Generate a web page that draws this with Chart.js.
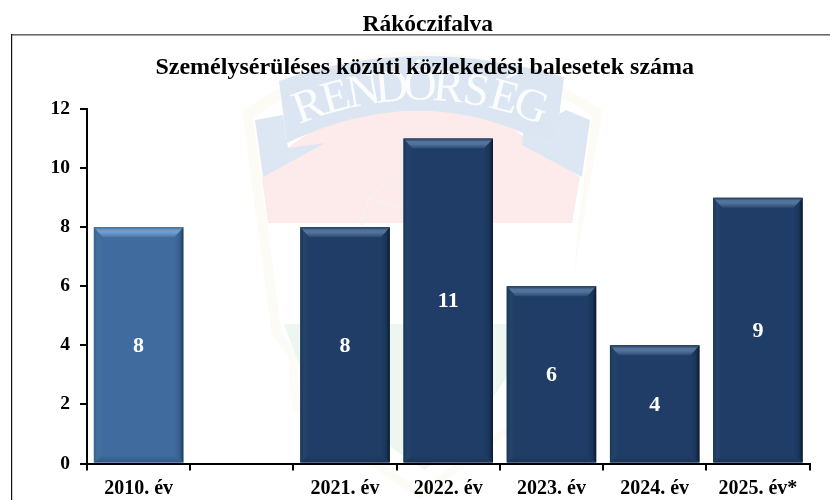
<!DOCTYPE html>
<html><head><meta charset="utf-8">
<style>html,body{margin:0;padding:0;background:#fff}canvas{display:block}</style>
<script src="https://cdn.jsdelivr.net/npm/chart.js@4"></script></head>
<body><div style="width:830px;height:500px"><canvas id="c" width="830" height="500"></canvas></div>
<script>
const categories=['2010. év','','2021. év','2022. év','2023. év','2024. év','2025. év*'];
const accidents=[8,null,8,11,6,4,9];
const yTicks=[0,2,4,6,8,10,12];
const townTitle='Rákóczifalva';
const chartTitle='Személysérüléses közúti közlekedési balesetek száma';
const watermarkWord='RENDŐRSÉG';
const SERIF='"Liberation Serif","Times New Roman",serif';

function poly(ctx,pts,fill){ctx.beginPath();pts.forEach((p,i)=>i?ctx.lineTo(p[0],p[1]):ctx.moveTo(p[0],p[1]));ctx.closePath();ctx.fillStyle=fill;ctx.fill();}

const backdrop={id:'backdrop',
 afterLayout(chart){if(chart.titleBlock){chart.titleBlock.left+=3;chart.titleBlock.right+=3;}},
 beforeDraw(chart){
  const ctx=chart.ctx;ctx.save();
  ctx.fillStyle='#fff';ctx.fillRect(0,0,830,500);
  // faint police-badge watermark
  ctx.beginPath();ctx.moveTo(242,111);ctx.quadraticCurveTo(415,-8,603,110);
  ctx.lineTo(578,250);ctx.lineTo(566,335);ctx.lineTo(545,356);ctx.lineTo(540,410);ctx.lineTo(420,500);ctx.lineTo(292,410);ctx.lineTo(288,355);ctx.lineTo(272,335);ctx.closePath();
  ctx.fillStyle='#fdfbf6';ctx.fill();
  ctx.beginPath();ctx.moveTo(253,118);ctx.quadraticCurveTo(415,8,592,115);ctx.lineTo(578,225);ctx.lineTo(570,335);ctx.lineTo(540,352);ctx.lineTo(534,405);ctx.lineTo(420,490);ctx.lineTo(300,405);ctx.lineTo(296,350);ctx.lineTo(282,335);ctx.closePath();
  ctx.fillStyle='#ffffff';ctx.fill();
  // red field
  ctx.beginPath();ctx.moveTo(262,178);ctx.lineTo(285,150);ctx.quadraticCurveTo(415,50,528,140);ctx.lineTo(580,177);ctx.lineTo(572,223);ctx.lineTo(268,223);ctx.closePath();
  ctx.fillStyle='#fdeaea';ctx.fill();
  // green field
  ctx.beginPath();ctx.moveTo(284,324);ctx.lineTo(516,324);ctx.lineTo(510,372);ctx.lineTo(478,420);ctx.lineTo(425,470);ctx.lineTo(350,420);ctx.lineTo(302,372);ctx.closePath();
  ctx.fillStyle='#edf6ef';ctx.fill();
  // ribbon tails
  poly(ctx,[[255,120],[283,115],[288,148],[325,143],[263,177]],'#dde7f3');
  poly(ctx,[[523,133],[566,110],[590,120],[582,177],[522,145]],'#dde7f3');
  // ribbon
  ctx.beginPath();ctx.moveTo(279,81);ctx.quadraticCurveTo(415,33,564,77);ctx.lineTo(556,142);ctx.lineTo(523,133);ctx.quadraticCurveTo(410,84,287,143);ctx.closePath();
  ctx.fillStyle='#dce6f2';ctx.fill();
  // arched word
  ctx.fillStyle='#fafcfe';ctx.font='46px '+SERIF;ctx.textAlign='center';ctx.textBaseline='alphabetic';
  const letters=[...watermarkWord];const R=311,cx=420,cy=411,span=0.7;
  letters.forEach((l,i)=>{const a=-span/2+span*i/(letters.length-1);ctx.save();ctx.translate(cx+R*Math.sin(a),cy-R*Math.cos(a));ctx.rotate(a);ctx.fillText(l,0,0);ctx.restore();});
  // emblem hints
  ctx.strokeStyle='#f7f1ea';ctx.lineWidth=2;
  ctx.beginPath();ctx.moveTo(362,225);ctx.lineTo(368,198);ctx.lineTo(400,172);ctx.moveTo(368,198);ctx.lineTo(425,215);ctx.stroke();
  // frame
  ctx.fillStyle='#6a6a6a';ctx.fillRect(11,34,819,1.6);
  ctx.fillStyle='#111';ctx.fillRect(11,34,1.2,466);
  ctx.restore();
}};

const bevel={id:'bevel',afterDatasetsDraw(chart){
  const ctx=chart.ctx,meta=chart.getDatasetMeta(0);
  meta.data.forEach((bar,i)=>{
    const v=accidents[i];if(v==null)return;
    const w=bar.width,l=bar.x-w/2,r=bar.x+w/2,t=bar.y,b=bar.base;
    const light=i===0;const topHi=light?'#6f9ccc':'#54739a',topLo=light?'#4a78ac':'#284a74';
    const sideDark=light?'#1f3a58':'#0b1a2e',body=light?'#3f6b9f':'#1f3d66';
    const bandT=10,bandS=9,bandB=7;ctx.save();
    let g=ctx.createLinearGradient(l,0,l+bandS,0);g.addColorStop(0,light?'#395f8a':'#1b365a');g.addColorStop(.4,light?'#44709f':'#234469');g.addColorStop(1,body);
    poly(ctx,[[l,t],[l+bandS,t+bandT],[l+bandS,b-bandB],[l,b]],g);
    g=ctx.createLinearGradient(r-bandS,0,r,0);g.addColorStop(0,body);g.addColorStop(.6,light?'#36608e':'#1a3558');g.addColorStop(1,sideDark);
    poly(ctx,[[r,t],[r-bandS,t+bandT],[r-bandS,b-bandB],[r,b]],g);
    g=ctx.createLinearGradient(0,t,0,t+bandT);g.addColorStop(0,light?'#3d6897':'#1c3759');g.addColorStop(.3,topHi);g.addColorStop(.55,topHi);g.addColorStop(1,topLo);
    poly(ctx,[[l,t],[r,t],[r-bandS,t+bandT],[l+bandS,t+bandT]],g);
    g=ctx.createLinearGradient(0,b-bandB,0,b);g.addColorStop(0,body);g.addColorStop(1,light?'#2f5885':'#1a3558');
    poly(ctx,[[l,b],[r,b],[r-bandS,b-bandB],[l+bandS,b-bandB]],g);
    ctx.restore();
    ctx.save();ctx.fillStyle='#fff';ctx.font='bold 22px '+SERIF;ctx.textAlign='center';ctx.textBaseline='middle';
    ctx.fillText(String(v),bar.x,(t+b)/2+1);ctx.restore();
  });
}};

new Chart(document.getElementById('c'),{
  type:'bar',
  data:{labels:categories,datasets:[{data:accidents,
    backgroundColor:categories.map((_,i)=>i===0?'#3f6b9f':'#1f3d66'),
    barPercentage:.867,categoryPercentage:1,borderWidth:0}]},
  plugins:[backdrop,bevel],
  options:{responsive:false,animation:false,
    layout:{padding:{left:40,right:20.5,top:0,bottom:0}},
    plugins:{legend:{display:false},tooltip:{enabled:false},
      title:{display:true,text:townTitle,color:'#000',font:{family:SERIF,size:23.5,weight:'bold'},padding:{top:11,bottom:0}},
      subtitle:{display:true,text:chartTitle,color:'#000',font:{family:SERIF,size:24,weight:'bold'},padding:{top:14,bottom:27}}},
    scales:{
      x:{afterFit(s){s.height=36.5;},
        grid:{display:true,drawOnChartArea:false,drawTicks:true,tickLength:7,color:'#000',lineWidth:2},
        border:{color:'#000',width:2},
        ticks:{color:'#000',autoSkip:false,maxRotation:0,font:{family:SERIF,size:20,weight:'bold'},padding:6}},
      y:{min:0,max:12,afterFit(s){s.width=47;},afterBuildTicks(s){s.ticks=yTicks.map(v=>({value:v}));},
        grid:{display:true,drawOnChartArea:false,drawTicks:true,tickLength:7,color:'#000',lineWidth:2},
        border:{color:'#000',width:2},
        ticks:{color:'#000',font:{family:SERIF,size:19.5,weight:'bold'},padding:10}}
    }}
});
</script></body></html>
